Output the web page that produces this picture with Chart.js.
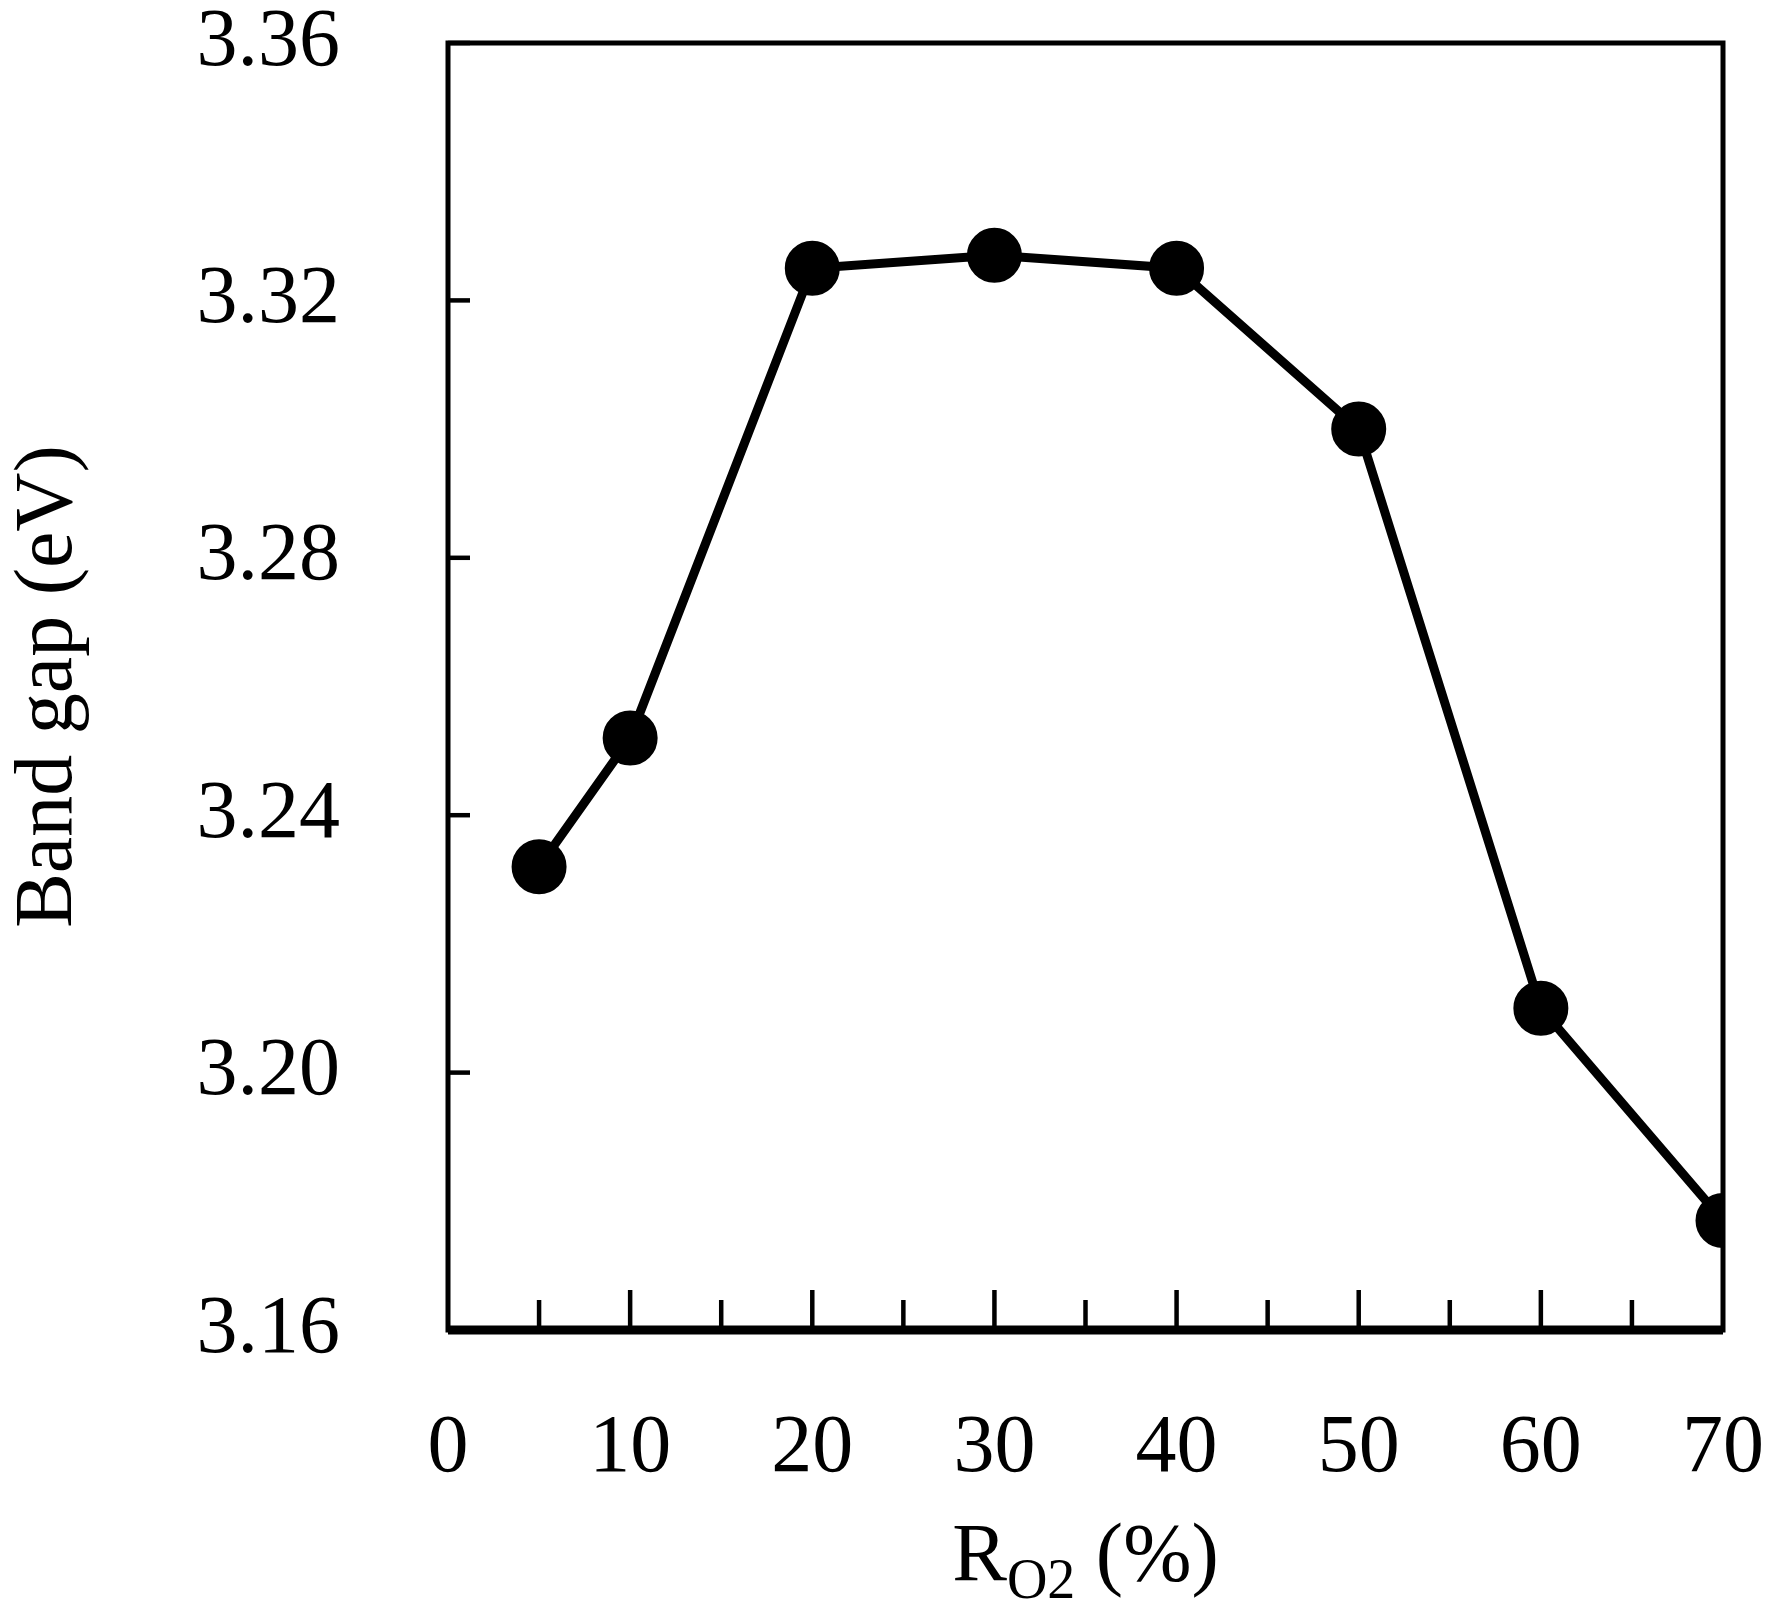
<!DOCTYPE html>
<html><head><meta charset="utf-8">
<script src="https://cdn.jsdelivr.net/npm/chart.js@4"></script>
<style>html,body{margin:0;padding:0;background:#fff}#c{display:block}</style>
</head><body>
<div style="width:1770px;height:1617px"><canvas id="c"></canvas></div>
<script>
const xValues=[5,10,20,30,40,50,60,70];
const bandGap=[3.232,3.252,3.325,3.327,3.325,3.300,3.210,3.177];
const xTicks=[0,10,20,30,40,50,60,70];
const yTicks=[3.16,3.20,3.24,3.28,3.32,3.36];
const FONT='"Liberation Serif","Times New Roman",serif';
const deco={id:'deco',afterDraw(ch){
  const c=ch.ctx,a=ch.chartArea,x=ch.scales.x,y=ch.scales.y;
  c.save();c.strokeStyle='#000';c.lineWidth=5;
  c.strokeRect(a.left,a.top,a.right-a.left,a.bottom-a.top);
  c.lineWidth=9;c.beginPath();c.moveTo(a.left,a.bottom);c.lineTo(a.right,a.bottom);c.stroke();
  c.lineWidth=4.5;
  for(let v=5;v<70;v+=5){const p=x.getPixelForValue(v);const L=v%10===0?40:30;c.beginPath();c.moveTo(p,a.bottom);c.lineTo(p,a.bottom-L);c.stroke();}
  yTicks.forEach(v=>{const p=y.getPixelForValue(v);c.beginPath();c.moveTo(a.left,p);c.lineTo(a.left+22,p);c.stroke();});
  c.fillStyle='#000';c.textBaseline='alphabetic';
  const big='82px '+FONT,small='56px '+FONT;
  c.font=big;const w1=c.measureText('R').width;const w3=c.measureText(' (%)').width;
  c.font=small;const w2=c.measureText('O2').width;
  let sx=(a.left+a.right)/2-(w1+w2+w3)/2;const by=1580;
  c.textAlign='left';c.font=big;c.fillText('R',sx,by);
  c.font=small;c.fillText('O2',sx+w1,by+18);
  c.font=big;c.fillText(' (%)',sx+w1+w2,by);
  c.restore();}};
new Chart(document.getElementById('c'),{type:'scatter',
 data:{datasets:[{data:xValues.map((x,i)=>({x,y:bandGap[i]})),showLine:true,borderColor:'#000',backgroundColor:'#000',borderWidth:9,pointRadius:23,pointHoverRadius:23}]},
 options:{responsive:true,maintainAspectRatio:false,animation:false,devicePixelRatio:1,
  layout:{padding:{top:43,right:47,left:0,bottom:0}},
  plugins:{legend:{display:false},tooltip:{enabled:false}},
  scales:{
   x:{type:'linear',min:0,max:70,afterBuildTicks:s=>{s.ticks=xTicks.map(v=>({value:v}));},
      afterFit:s=>{s.height=287;s.paddingLeft=0;s.paddingRight=0;},grid:{display:false},border:{display:false},
      ticks:{color:'#000',font:{family:FONT,size:82},padding:62,maxRotation:0}},
   y:{min:3.16,max:3.36,afterBuildTicks:s=>{s.ticks=yTicks.map(v=>({value:v}));},
      afterFit:s=>{s.width=448;s.paddingTop=0;s.paddingBottom=0;},grid:{display:false},border:{display:false},
      ticks:{color:'#000',font:{family:FONT,size:82},padding:100,callback:v=>v.toFixed(2)},
      title:{display:true,text:'Band gap (eV)',color:'#000',font:{family:FONT,size:82},padding:0}}
  }},plugins:[deco]});
</script></body></html>
